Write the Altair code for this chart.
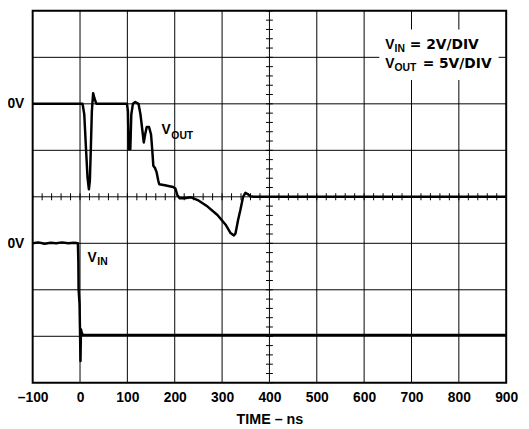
import altair as alt
import pandas as pd

# V_OUT trace (time in ns, vertical position in divisions; centre line = 0)
vout_t = [-100, -60, -20, -1.5, 5.4, 9.0, 12.5, 15.8, 18.75, 20.8, 22.9, 25, 27.7, 30.4,
          34.6, 70, 99.2, 101.2, 102.7, 106.25, 108.3, 111.7, 116.7, 123.5, 127.7, 131.9,
          134.6, 137.5, 140.8, 145.8, 150, 152.7, 154.8, 158.3, 161.7, 165.2, 167.3,
          179.2, 196.5, 201.3, 205.4, 210.4, 220.8, 234.6, 248.5, 269.4, 290.2, 307.5,
          317.9, 325, 328.3, 334, 338.75, 344.4, 349.2, 354.2, 359.6, 366.7, 600, 900]
vout_v = [2.0, 2.0, 2.0, 2.0, 2.0, 1.77, 1.06, 0.42, 0.16, 0.35, 1.06, 1.84, 2.23, 2.12,
          2.0, 2.0, 2.0, 1.84, 1.03, 1.03, 1.77, 2.0, 2.04, 2.0, 1.77, 1.41, 1.17, 1.34,
          1.50, 1.50, 1.34, 0.99, 0.67, 0.62, 0.53, 0.35, 0.27, 0.25, 0.21, 0.18, 0.04,
          -0.03, -0.03, -0.01, -0.07, -0.21, -0.39, -0.60, -0.78, -0.83, -0.79, -0.49,
          -0.28, 0.0, 0.085, 0.06, 0.01, 0.0, 0.0, 0.0]

# V_IN trace
vin_t = [-100, -88, -75, -62, -50, -38, -25, -12, -4.5, -3.5, -3, -1, 0, 1, 2, 3.5, 6, 900]
vin_v = [-1.0, -0.98, -1.01, -0.99, -1.0, -0.98, -1.0, -0.99, -1.0, -1.4, -2.0, -2.3,
         -2.9, -3.53, -2.85, -2.92, -2.97, -2.97]

x_ticks = [-100, 0, 100, 200, 300, 400, 500, 600, 700, 800, 900]
grid_t = [0, 100, 200, 300, 400, 500, 600, 700, 800]
grid_y = [-3, -2, -1, 0, 1, 2, 3]
minor_t = list(range(-100, 901, 20))
minor_y = [round(i * 0.2, 2) for i in range(-20, 21)]
zero_levels = [2, -1]

FONT = "Liberation Sans"
xs = alt.Scale(domain=[-100, 900], nice=False, zero=False)
ys = alt.Scale(domain=[-4, 4], nice=False, zero=False)

X = alt.X("t:Q", scale=xs, axis=alt.Axis(
    values=x_ticks, title="TIME – ns", grid=False, ticks=False, domain=False,
    labelExpr="datum.value < 0 ? '–' + abs(datum.value) : datum.value",
    labelFlush=False, labelOverlap=False, labelPadding=8, titlePadding=8))
Y = alt.Y("v:Q", scale=ys, axis=alt.Axis(
    values=zero_levels, labelExpr="'0V'", title=None, grid=False, ticks=False,
    domain=False, labelPadding=9))
X2 = alt.X2("t2:Q")
Y2 = alt.Y2("v2:Q")

vout = pd.DataFrame({"t": vout_t, "v": vout_v})
vin = pd.DataFrame({"t": vin_t, "v": vin_v})

vgrid = alt.Chart(pd.DataFrame({"t": grid_t})).mark_rule(color="black", strokeWidth=1).encode(x=X)
hgrid = alt.Chart(pd.DataFrame({"v": grid_y})).mark_rule(color="black", strokeWidth=1).encode(y=Y)
hticks = alt.Chart(pd.DataFrame({"t": minor_t, "v": 0})).mark_tick(
    orient="vertical", size=7, thickness=1, color="black", opacity=1).encode(x=X, y=Y)
vticks = alt.Chart(pd.DataFrame({"v": minor_y, "t": 400})).mark_tick(
    orient="horizontal", size=7, thickness=1, color="black", opacity=1).encode(x=X, y=Y)

box = alt.Chart(pd.DataFrame({"t": [632], "t2": [884], "v": [2.51], "v2": [3.6]})).mark_rect(
    fill="white").encode(x=X, x2=X2, y=Y, y2=Y2)

line_out = alt.Chart(vout).mark_line(color="black", strokeWidth=2.5, strokeJoin="round").encode(x=X, y=Y)
line_in = alt.Chart(vin).mark_line(color="black", strokeWidth=2.5, strokeJoin="round").encode(x=X, y=Y)


def txt(s, t, v, size=14, dx=0, dy=0, font=FONT):
    return alt.Chart(pd.DataFrame({"t": [t], "v": [v]})).mark_text(
        text=s, font=font, fontSize=size, fontWeight="bold", color="black",
        align="left", baseline="alphabetic", dx=dx, dy=dy).encode(x=X, y=Y)


labels = [
    txt("V", 172, 1.345), txt("OUT", 172, 1.345, size=10.5, dx=10, dy=4.5),
    txt("V", 15.8, -1.41), txt("IN", 15.8, -1.41, size=10.5, dx=10, dy=3),
    txt("V", 644.4, 3.17), txt("IN", 644.4, 3.17, size=10.5, dx=9.5, dy=2.5),
    txt("= 2V/DIV", 644.4, 3.17, size=14, dx=25, font="DejaVu Sans"),
    txt("V", 644.4, 2.77), txt("OUT", 644.4, 2.77, size=10.5, dx=9.5, dy=3.4),
    txt("= 5V/DIV", 644.4, 2.77, size=14, dx=38, font="DejaVu Sans"),
]

chart = alt.layer(vgrid, hgrid, hticks, vticks, box, line_out, line_in, *labels).properties(
    width=480, height=377,
    autosize=alt.AutoSizeParams(type="none"),
    padding={"left": 25, "top": 0, "right": 15, "bottom": 46},
).configure_view(stroke="black", strokeWidth=2).configure_axis(
    labelFont=FONT, labelFontSize=14, labelFontWeight="bold", labelColor="black",
    titleFont=FONT, titleFontSize=14.5, titleFontWeight="bold", titleColor="black")

chart.save("out.html", embed_options={"renderer": "svg", "actions": False})
